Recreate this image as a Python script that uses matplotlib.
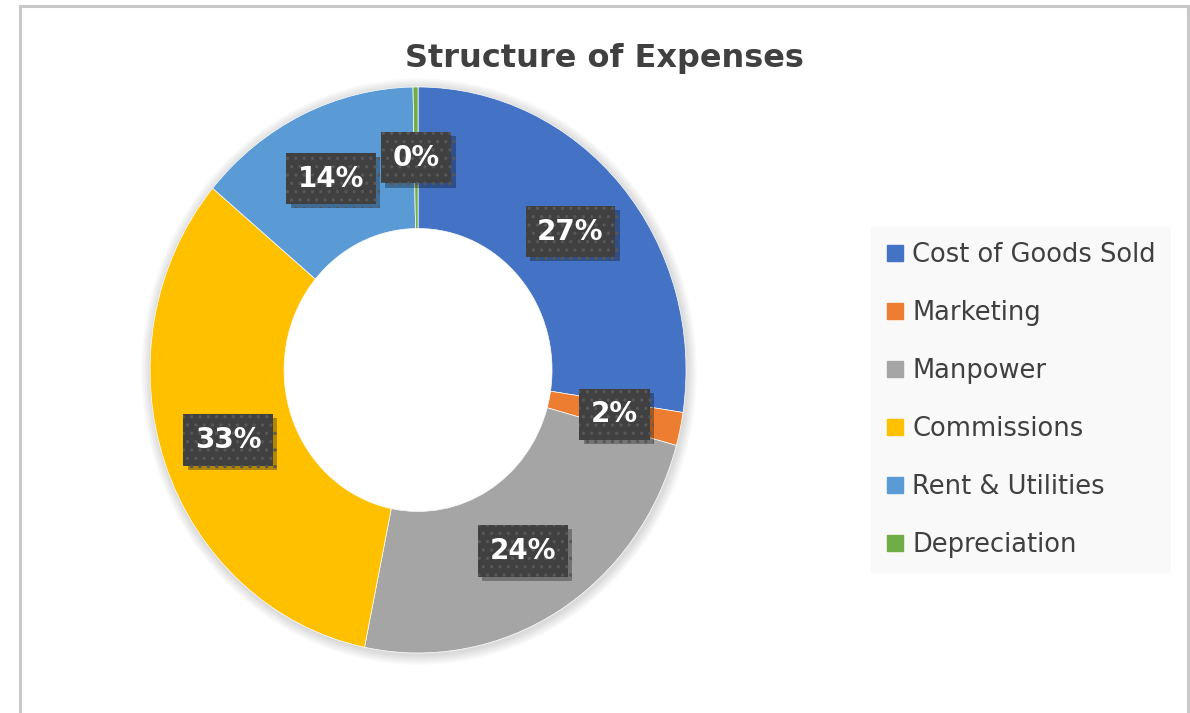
import matplotlib
matplotlib.use("Agg")
import matplotlib.pyplot as plt
import matplotlib.patheffects as pe
from matplotlib.lines import Line2D
from matplotlib.patches import Rectangle, Ellipse

categories = ["Cost of Goods Sold", "Marketing", "Manpower", "Commissions",
              "Rent & Utilities", "Depreciation"]
shares = [27.4, 1.9, 23.9, 32.9, 13.6, 0.3]
colors = ["#4472C4", "#ED7D31", "#A5A5A5", "#FFC000", "#5B9BD5", "#70AD47"]
title = "Structure of Expenses"

plt.rcParams['hatch.linewidth'] = 1.2
text_grey = '#404040'

fig = plt.figure(figsize=(11.9, 7.13), dpi=100)
fig.patch.set_facecolor('white')

# doughnut (slightly squashed like the original screenshot)
pos = [0.1261, 0.0842, 0.4504, 0.7938]
ax = fig.add_axes([pos[0] - pos[2] * 0.025, pos[1] - pos[3] * 0.025,
                   pos[2] * 1.05, pos[3] * 1.05])
ax.set_facecolor('none')

# soft outer shadow
for k in range(6):
    r = 1.0 + 0.006 * (k + 1)
    ax.add_patch(Ellipse((0.004, -0.006), 2 * r, 2 * r, facecolor='black',
                         alpha=0.025, linewidth=0, zorder=0))

wedges, _, pcts = ax.pie(shares, colors=colors, startangle=90, counterclock=False,
                         wedgeprops=dict(width=0.5, edgecolor='white', linewidth=0.5),
                         autopct='%.0f%%', pctdistance=0.75)
# white hole covers the shadow in the middle
ax.add_patch(Ellipse((0, 0), 1.0, 1.0, facecolor='white', linewidth=0, zorder=0.5))
ax.set_aspect('auto')
ax.set_xlim(-1.05, 1.05)
ax.set_ylim(-1.05, 1.05)

for t in pcts:
    t.set_color('white')
    t.set_fontsize(20)
    t.set_fontweight('bold')
    t.set_zorder(4)
    t.set_bbox(dict(boxstyle='square,pad=0.42', facecolor=text_grey, edgecolor='#575757',
                    hatch='..', linewidth=0))
    # drop shadow under the label box
    t.get_bbox_patch().set_path_effects([
        pe.SimplePatchShadow(offset=(3, -3), shadow_rgbFace='black', alpha=0.3),
        pe.Normal()])

fig.text(0.508, 1 - 58 / 713, title, ha='center', va='center', fontsize=23,
         fontweight='bold', color=text_grey)

handles = [Line2D([], [], marker='s', linestyle='none', markersize=12,
                  markerfacecolor=c, markeredgecolor=c) for c in colors]
leg = fig.legend(handles, categories, loc='upper left', bbox_to_anchor=(871 / 1190, 1 - 227 / 713),
                 frameon=True, facecolor='#f8f8f8', edgecolor='none', fancybox=False,
                 fontsize=18.5, labelcolor=text_grey, handlelength=0.7, handletextpad=0.3,
                 labelspacing=1.24, borderpad=0.6, borderaxespad=0)

# chart area border
fig.patches.append(Rectangle((20 / 1190, -0.1), 1168 / 1190, 1.1 - 6 / 713,
                             transform=fig.transFigure, fill=False,
                             edgecolor='#c8c8c8', linewidth=2.2))

fig.savefig('out.png', dpi=100)
